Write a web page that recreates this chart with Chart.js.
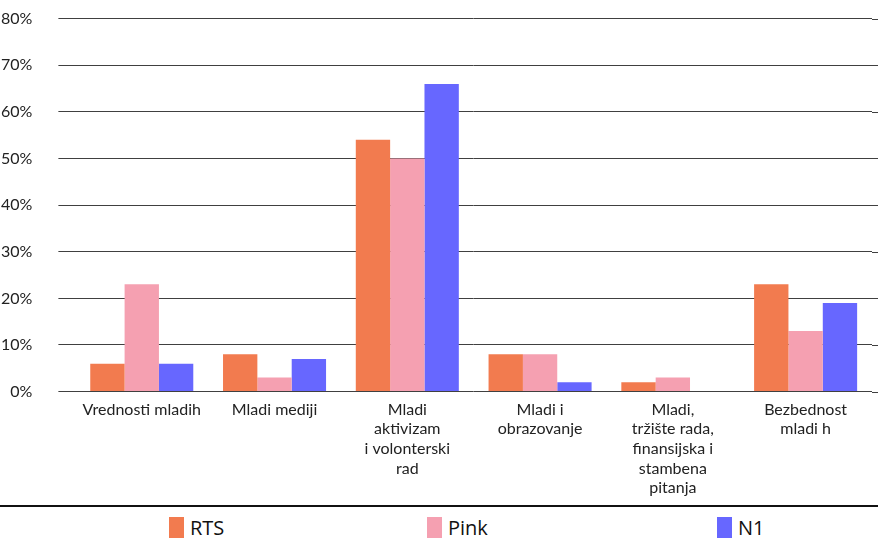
<!DOCTYPE html>
<html>
<head>
<meta charset="utf-8">
<script src="https://cdn.jsdelivr.net/npm/chart.js@4.4.1/dist/chart.umd.min.js"></script>
<style>
  html, body { margin: 0; padding: 0; background: #fff; overflow: hidden; }
  #wrap { position: relative; width: 878px; height: 538px; overflow: hidden; }
  #cbox { position: absolute; left: -25px; top: -17px; width: 903px; height: 530px; }
  #legend { position: absolute; left: 0; top: 505px; width: 878px; height: 33px; border-top: 2px solid #111; background: #fff; }
  .li { position: absolute; top: 10px; height: 30px; font-family: "Open Sans", "Noto Sans", sans-serif; font-size: 20px; color: #111; white-space: nowrap; }
  .li .sw { position: absolute; left: 0; top: 0; width: 15px; height: 26px; }
  .li .tx { position: absolute; left: 21px; top: -2px; line-height: 26px; }
</style>
</head>
<body>
<div id="wrap">
  <div id="cbox"><canvas id="c"></canvas></div>
  <div id="legend"></div>
</div>
<script>
const categories = [
  ['Vrednosti mladih'],
  ['Mladi mediji'],
  ['Mladi', 'aktivizam', 'i volonterski', 'rad'],
  ['Mladi i', 'obrazovanje'],
  ['Mladi,', 'tržište rada,', 'finansijska i', 'stambena', 'pitanja'],
  ['Bezbednost', 'mladi h']
];
const seriesNames = ['RTS', 'Pink', 'N1'];
const rtsValues  = [6, 8, 54, 8, 2, 23];
const pinkValues = [23, 3, 50, 8, 3, 13];
const n1Values   = [6, 7, 66, 2, 0, 19];
const yTickValues = [0, 10, 20, 30, 40, 50, 60, 70, 80];

const colors = ['#F27B4F', '#F5A0B1', '#6767FF'];
const legendLeft = [169, 427, 717];

const gridExtend = {
  id: 'gridExtend',
  beforeDatasetsDraw(chart) {
    const y = chart.scales.y, ctx = chart.ctx, a = chart.chartArea;
    ctx.save();
    ctx.strokeStyle = '#404040';
    ctx.lineWidth = 1;
    y.ticks.forEach(t => {
      const py = Math.round(y.getPixelForValue(t.value)) + 0.5;
      ctx.beginPath();
      ctx.moveTo(a.right, py);
      ctx.lineTo(chart.width, py);
      ctx.stroke();
    });
    ctx.restore();
  }
};

const allValues = [rtsValues, pinkValues, n1Values];
const chart = new Chart(document.getElementById('c'), {
  type: 'bar',
  data: {
    labels: categories,
    datasets: seriesNames.map((n, i) => ({
      label: n,
      data: allValues[i],
      backgroundColor: colors[i],
      borderWidth: 0,
      categoryPercentage: 0.776,
      barPercentage: 1.0
    }))
  },
  options: {
    responsive: true,
    maintainAspectRatio: false,
    animation: false,
    devicePixelRatio: 1,
    layout: { padding: { left: 0, right: 6, top: 8, bottom: 7 } },
    plugins: { legend: { display: false }, tooltip: { enabled: false } },
    scales: {
      x: {
        grid: { display: false, drawTicks: false },
        border: { display: false },
        ticks: {
          color: '#222',
          font: { family: 'Lato', size: 16, lineHeight: 1.23 },
          padding: 8,
          maxRotation: 0,
          minRotation: 0,
          autoSkip: false
        }
      },
      y: {
        min: 0,
        max: 80,
        afterBuildTicks(scale) { scale.ticks = yTickValues.map(v => ({ value: v })); },
        grid: { color: '#404040', lineWidth: 1, tickLength: 17, drawTicks: true },
        border: { display: false },
        ticks: {
          color: '#222',
          font: { family: 'Lato', size: 16 },
          padding: 26,
          callback: v => v + '%'
        }
      }
    }
  },
  plugins: [gridExtend]
});

const lg = document.getElementById('legend');
seriesNames.forEach((n, i) => {
  const d = document.createElement('div');
  d.className = 'li';
  d.style.left = legendLeft[i] + 'px';
  d.innerHTML = '<span class="sw" style="background:' + colors[i] + '"></span><span class="tx">' + n + '</span>';
  lg.appendChild(d);
});
</script>
</body>
</html>
